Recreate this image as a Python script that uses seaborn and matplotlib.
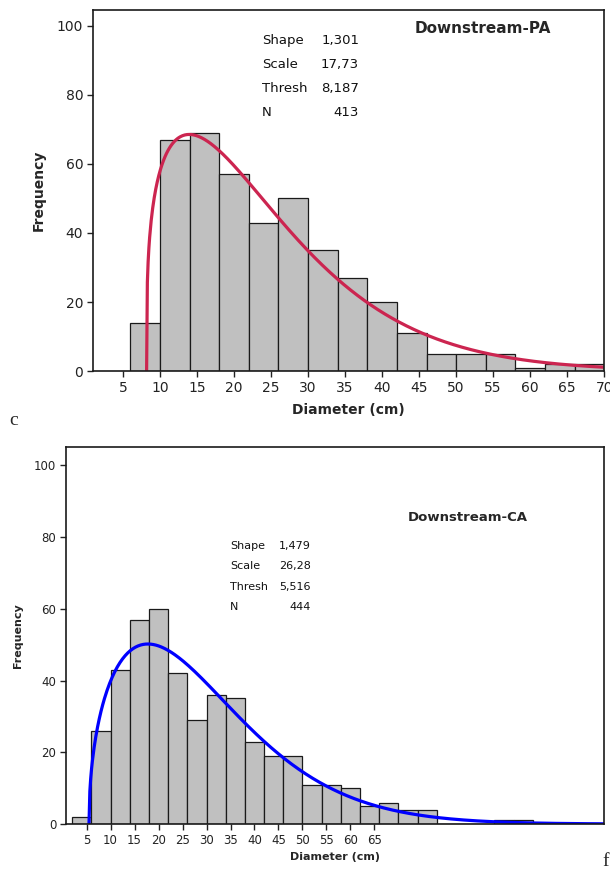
import numpy as np
import matplotlib
matplotlib.use("Agg")
import matplotlib.pyplot as plt
import seaborn as sns

sns.set_theme(style="white")
plt.rcParams['font.family'] = ['DejaVu Sans']

# ----------------- data ----------------- #
# Downstream-PA (panel c): bins of width 4 starting at 6 cm
pa_edges = [6, 10, 14, 18, 22, 26, 30, 34, 38, 42, 46, 50, 54, 58, 62, 66, 70]
pa_counts = [14, 67, 69, 57, 43, 50, 35, 27, 20, 11, 5, 5, 5, 1, 2, 2]
pa_params = {"Shape": "1,301", "Scale": "17,73", "Thresh": "8,187", "N": "413"}
pa_shape, pa_scale, pa_thresh, pa_n = 1.301, 17.73, 8.187, 413

# Downstream-CA (panel f): bins of width 4 starting at 2 cm
ca_edges = [2, 6, 10, 14, 18, 22, 26, 30, 34, 38, 42, 46, 50, 54, 58, 62, 66,
            70, 74, 78, 82, 86, 90, 94, 98]
ca_counts = [2, 26, 43, 57, 60, 42, 29, 36, 35, 23, 19, 19, 11, 11, 10, 5, 6,
             4, 4, 0, 0, 0, 1, 1]
ca_params = {"Shape": "1,479", "Scale": "26,28", "Thresh": "5,516", "N": "444"}
ca_shape, ca_scale, ca_thresh, ca_n = 1.479, 26.28, 5.516, 444

pa_xticks = list(range(5, 75, 5))
ca_xticks = list(range(5, 70, 5))
y_ticks = [0, 20, 40, 60, 80, 100]
BIN_W = 4


def weibull_curve(shape, scale, thresh, n, x_max):
    # 3-parameter Weibull fit as printed on the chart, scaled to counts
    x = np.linspace(thresh, x_max, 600)
    z = (x - thresh) / scale
    pdf = shape / scale * z ** (shape - 1) * np.exp(-z ** shape)
    return x, pdf * n * BIN_W


def panel(ax, edges, counts, params, title, curve, color, xlim, ylim, xticks,
          fs_tick, fs_lab, fs_title, fs_stat, title_xy, stat_x, stat_y, xpad):
    centers = [(a + b) / 2 for a, b in zip(edges[:-1], edges[1:])]
    sns.histplot(x=centers, weights=counts, bins=edges, ax=ax,
                 color='#c0c0c0', edgecolor='#1a1a1a', linewidth=0.9, alpha=1)
    sns.lineplot(x=curve[0], y=curve[1], ax=ax, color=color, linewidth=2.3,
                 sort=False, estimator=None)
    ax.set_xlim(*xlim)
    ax.set_ylim(*ylim)
    ax.set_xticks(xticks)
    ax.set_yticks(y_ticks)
    ax.tick_params(axis='both', labelsize=fs_tick, length=4, width=1,
                   direction='out', colors='#222222', pad=3)
    ax.tick_params(left=True, bottom=True)
    for s in ax.spines.values():
        s.set_color('#1a1a1a')
        s.set_linewidth(1.2)
    ax.set_xlabel('Diameter (cm)', fontsize=fs_lab, fontweight='bold', labelpad=xpad)
    ax.set_ylabel('Frequency', fontsize=fs_lab, fontweight='bold', labelpad=8)
    ax.text(title_xy[0], title_xy[1], title, transform=ax.transAxes,
            ha='center', va='center', fontsize=fs_title, fontweight='bold')
    for i, (k, v) in enumerate(params.items()):
        ax.text(stat_x[0], stat_y[i], k, transform=ax.transAxes,
                ha='left', va='center', fontsize=fs_stat, color='#111111')
        ax.text(stat_x[1], stat_y[i], v, transform=ax.transAxes,
                ha='right', va='center', fontsize=fs_stat, color='#111111')


fig = plt.figure(figsize=(6.1, 8.72), dpi=100)

ax1 = fig.add_axes([0.1525, 0.5745, 0.838, 0.414])
panel(ax1, pa_edges, pa_counts, pa_params, 'Downstream-PA',
      weibull_curve(pa_shape, pa_scale, pa_thresh, pa_n, 70), '#cc2550',
      (0.95, 70), (0, 104.6), pa_xticks, 10, 10, 11, 9.5,
      (0.763, 0.950), (0.330, 0.5205), [0.915, 0.848, 0.783, 0.7155], 6)

ax2 = fig.add_axes([0.108, 0.055, 0.882, 0.432])
panel(ax2, ca_edges, ca_counts, ca_params, 'Downstream-CA',
      weibull_curve(ca_shape, ca_scale, ca_thresh, ca_n, 112.8), '#0000ff',
      (0.7, 112.8), (0, 105), ca_xticks, 8.5, 8, 9.5, 8,
      (0.747, 0.815), (0.305, 0.455), [0.737, 0.684, 0.629, 0.576], 4)

fig.text(0.023, 0.518, 'c', fontsize=14, family='Liberation Serif',
         ha='center', va='center')
fig.text(0.993, 0.012, 'f', fontsize=14, family='Liberation Serif',
         ha='center', va='center')

fig.savefig('out.png', dpi=100)
